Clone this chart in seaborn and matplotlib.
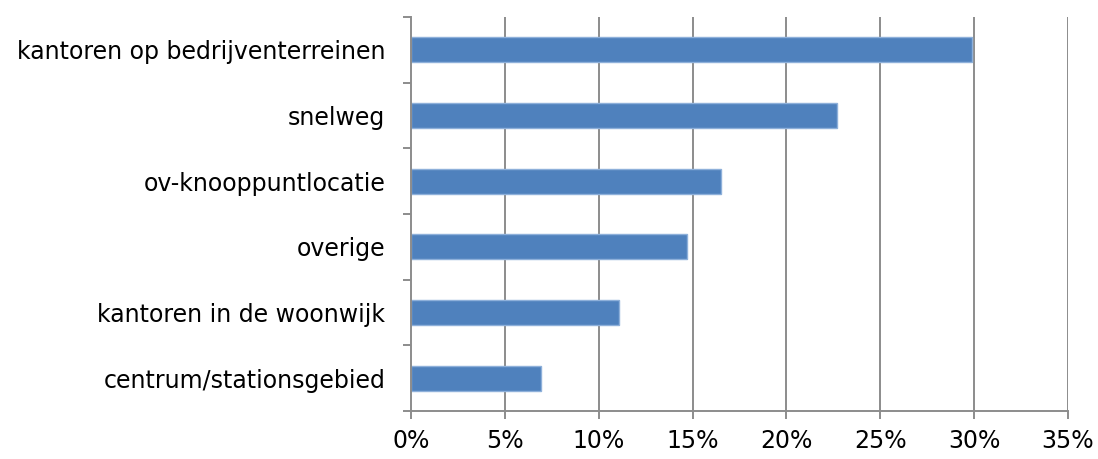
import matplotlib
matplotlib.use("Agg")
import matplotlib.pyplot as plt
import seaborn as sns
import pandas as pd
import numpy as np
from matplotlib.ticker import FixedLocator, PercentFormatter

categories = [
    "kantoren op bedrijventerreinen",
    "snelweg",
    "ov-knooppuntlocatie",
    "overige",
    "kantoren in de woonwijk",
    "centrum/stationsgebied",
]
shares = [29.9, 22.7, 16.5, 14.7, 11.1, 6.9]
x_ticks = [0, 5, 10, 15, 20, 25, 30, 35]

df = pd.DataFrame({"locatie": categories, "aandeel": shares})

sns.set_theme(style="white")
plt.rcParams["font.family"] = ["DejaVu Sans"]

fig = plt.figure(figsize=(10.98, 4.59), dpi=100)
ax = fig.add_axes([0.3743, 0.1046, 0.5984, 0.8584])

grid_col = "#8C8C8C"
sns.barplot(data=df, x="aandeel", y="locatie", orient="h", color="#4F81BD",
            saturation=1, width=0.38, edgecolor="#8EB0DA", linewidth=1.0,
            ax=ax, zorder=3)

ax.set_xlim(0, 35)
ax.set_ylim(len(categories) - 0.5, -0.5)
ax.set_xticks(x_ticks)
ax.xaxis.set_major_formatter(PercentFormatter(decimals=0))
for xv in x_ticks[1:]:
    ax.axvline(xv, color=grid_col, lw=1.4, zorder=1)

ax.set_xlabel("")
ax.set_ylabel("")

for side in ["top", "right"]:
    ax.spines[side].set_visible(False)
for side in ["left", "bottom"]:
    ax.spines[side].set_color(grid_col)
    ax.spines[side].set_linewidth(1.4)
    ax.spines[side].set_zorder(4)

ax.tick_params(axis="y", which="major", length=0, pad=18.5, labelsize=17, labelcolor="black")
ax.yaxis.set_minor_locator(FixedLocator(np.arange(-0.5, len(categories), 1.0)))
ax.tick_params(axis="y", which="minor", left=True, length=5.8, width=1.4, color=grid_col)
ax.tick_params(axis="x", which="major", bottom=True, length=5.8, width=1.4, color=grid_col,
               pad=7, labelsize=17, labelcolor="black")

fig.savefig("out.png", dpi=100, facecolor="white")
